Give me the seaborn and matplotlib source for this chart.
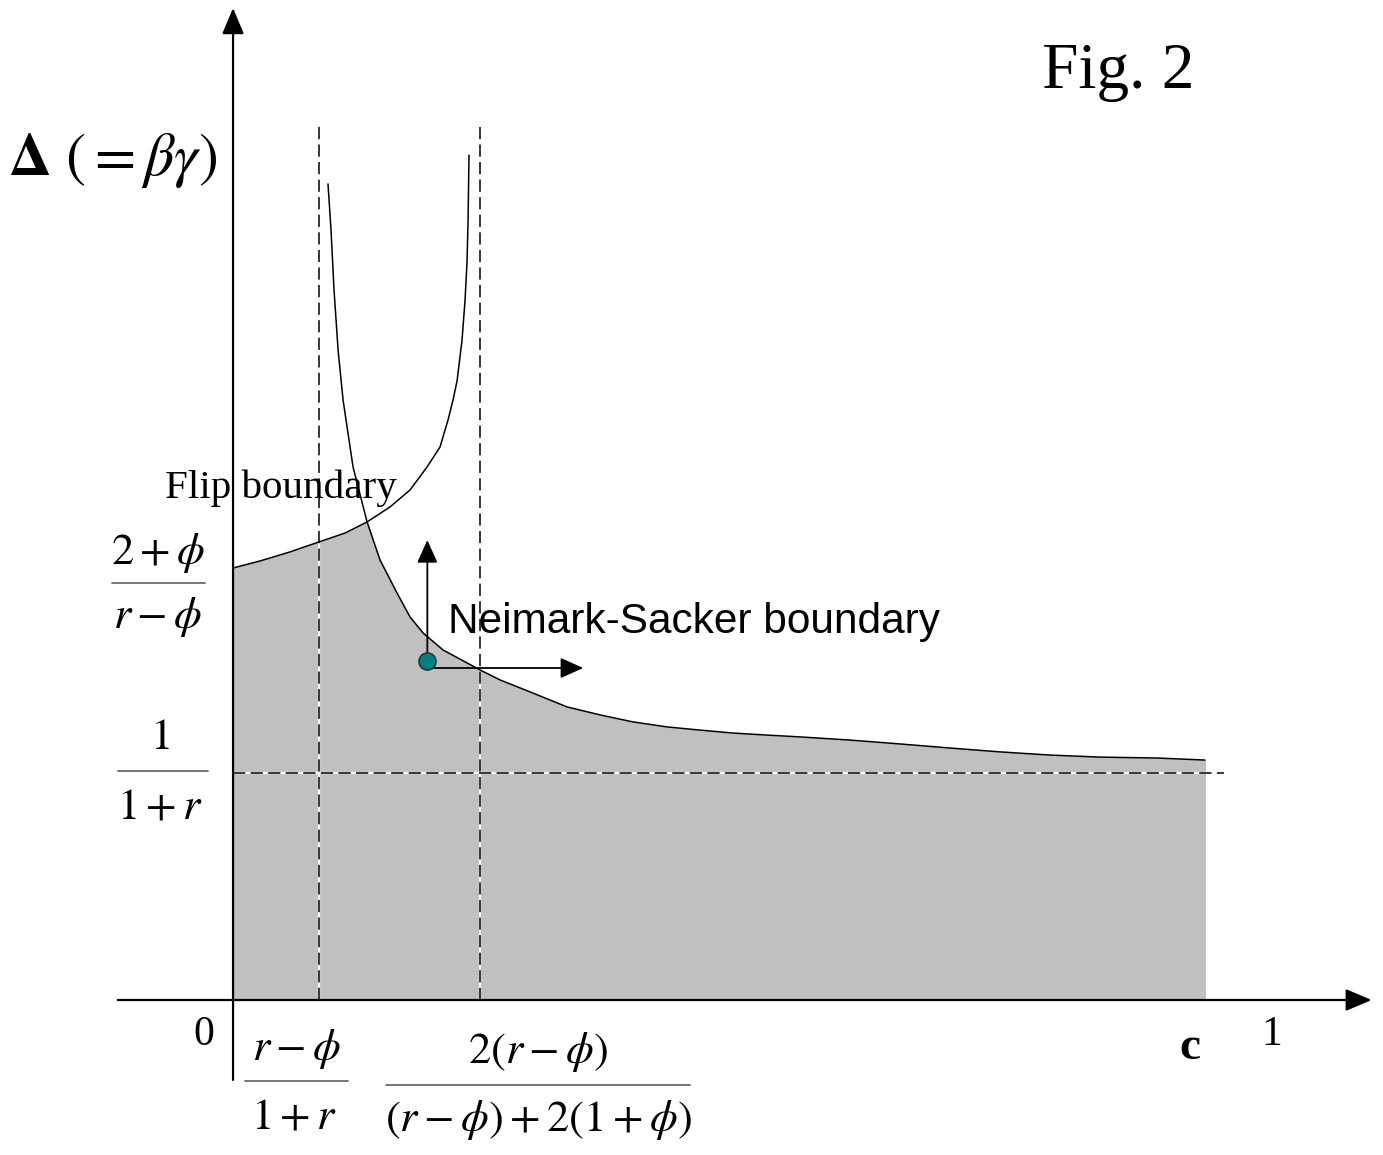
import numpy as np
import pandas as pd
import matplotlib
matplotlib.use("Agg")
import matplotlib.pyplot as plt
import seaborn as sns
from matplotlib.lines import Line2D

# ---------------- data (c on x-axis, Delta on y-axis; 1/(1+r) scaled to 1) -------------
flip_c = [0.0, 0.026, 0.0549, 0.0828, 0.1078, 0.129, 0.1511, 0.1704, 0.1867, 0.1992,
          0.2069, 0.2117, 0.2156, 0.2204, 0.2233, 0.2252, 0.2262, 0.2271]
flip_delta = [1.903, 1.934, 1.974, 2.018, 2.057, 2.106, 2.172, 2.247, 2.348, 2.436,
              2.555, 2.643, 2.727, 2.907, 3.084, 3.251, 3.436, 3.722]

ns_c = [0.0914, 0.0943, 0.0972, 0.1011, 0.1059, 0.1155, 0.129, 0.1415, 0.1578, 0.1704,
        0.1829, 0.2021, 0.2252, 0.2377, 0.257, 0.2887, 0.3215, 0.3532, 0.385, 0.4177,
        0.4495, 0.4812, 0.514, 0.5457, 0.5938, 0.642, 0.6901, 0.7382, 0.7863, 0.8345,
        0.8893, 0.9355]
ns_delta = [3.595, 3.392, 3.128, 2.863, 2.643, 2.348, 2.106, 1.938, 1.793, 1.687,
            1.617, 1.542, 1.485, 1.454, 1.410, 1.352, 1.291, 1.256, 1.225, 1.203,
            1.189, 1.176, 1.167, 1.159, 1.145, 1.128, 1.110, 1.093, 1.079, 1.070,
            1.066, 1.057]

c_left = 0.083      # (r - phi)/(1 + r)
c_right = 0.238     # 2(r - phi)/((r - phi) + 2(1 + phi))
delta_floor = 1.0   # 1/(1 + r)
c_max = 0.936
asym_top = 3.855
point_c, point_delta = 0.187, 1.493

# ---------------- figure -------------------------------------------------------------
W, H = 1383, 1155
sns.set_style("white")
plt.rcParams["mathtext.fontset"] = "stix"
plt.rcParams["font.family"] = ["Liberation Serif", "DejaVu Serif"]
plt.rcParams["text.color"] = "black"

fig = plt.figure(figsize=(W / 100, H / 100), dpi=100)
ax = fig.add_axes([0, 0, 1, 1])
ax.set_xlim(-0.2243, 1.1068)
ax.set_ylim(-0.6828, 4.4053)
ax.axis("off")

# shaded stable region
grid = np.unique(np.concatenate([flip_c, ns_c, [c_max]]))
grid = grid[grid <= c_max]
f_i = np.interp(grid, flip_c, flip_delta, right=np.inf)
n_i = np.interp(grid, ns_c, ns_delta, left=np.inf)
top = np.minimum(f_i, n_i)
ax.fill_between(grid, 0, top, color="#c0c0c0", lw=0, zorder=1)

# dashed guides (white under-line so gaps appear white on gray)
for xv in (c_left, c_right):
    ax.plot([xv, xv], [0, asym_top], color="white", lw=1.6, zorder=2)
    ax.plot([xv, xv], [0, asym_top], color="black", lw=1.1, dashes=(8, 3.5), zorder=3)
ax.plot([0, 0.954], [delta_floor, delta_floor], color="white", lw=1.6, zorder=2)
ax.plot([0, 0.954], [delta_floor, delta_floor], color="black", lw=1.1, dashes=(8, 3.5), zorder=3)

# boundaries
df_flip = pd.DataFrame({"c": flip_c, "delta": flip_delta})
df_ns = pd.DataFrame({"c": ns_c, "delta": ns_delta})
sns.lineplot(data=df_flip, x="c", y="delta", sort=False, estimator=None,
             color="black", lw=1.1, ax=ax, zorder=4)
sns.lineplot(data=df_ns, x="c", y="delta", sort=False, estimator=None,
             color="black", lw=1.1, ax=ax, zorder=4)

# axes with arrows
axis_arrow = dict(arrowstyle="-|>,head_length=1.0,head_width=0.42", lw=1.6,
                  color="black", shrinkA=0, shrinkB=0, mutation_scale=16)
ax.annotate("", xy=(1.096, 0), xytext=(-0.111, 0), arrowprops=axis_arrow, zorder=5)
ax.annotate("", xy=(0, 4.37), xytext=(0, -0.352), arrowprops=axis_arrow, zorder=5)

# perturbation arrows from the point
small_arrow = dict(arrowstyle="-|>,head_length=1.0,head_width=0.45", lw=1.3,
                   color="black", shrinkA=0, shrinkB=0, mutation_scale=14)
ax.annotate("", xy=(point_c, 2.026), xytext=(point_c, point_delta),
            arrowprops=small_arrow, zorder=5)
ax.annotate("", xy=(0.337, 1.4626), xytext=(point_c, 1.4626),
            arrowprops=small_arrow, zorder=5)
sns.scatterplot(x=[point_c], y=[point_delta], s=150, color="#008080",
                edgecolor="#1a3a3a", linewidth=1.2, ax=ax, zorder=6)


# ---------------- text ---------------------------------------------------------------
def fx(px):
    return px / W


def fy(py):
    return 1 - py / H


def txt(px, py, s, size, **kw):
    fig.text(fx(px), fy(py), s, fontsize=size, ha="center", va="center",
             color="black", **kw)


def bar(x1, x2, py):
    fig.add_artist(Line2D([fx(x1), fx(x2)], [fy(py), fy(py)],
                          transform=fig.transFigure, color="#6a6a6a", lw=1.3))


txt(1118, 72, "Fig. 2", 47)
txt(113, 160, r"$\mathbf{\Delta}\ (=\beta\gamma)$", 43)
txt(281, 488, "Flip boundary", 29.5)
txt(694, 622, "Neimark-Sacker boundary", 30.5, family=["Liberation Sans", "DejaVu Sans"])

fs = 32
txt(158, 553, r"$2+\phi$", fs)
bar(112, 205, 583)
txt(158, 617, r"$r-\phi$", fs)

txt(160, 738, r"$1$", fs)
bar(118, 208, 771)
txt(160, 808, r"$1+r$", fs)

txt(204, 1035, "0", 30)
txt(297, 1049, r"$r-\phi$", fs)
bar(245, 348, 1081)
txt(294, 1118, r"$1+r$", fs)

txt(538, 1052, r"$2(r-\phi)$", fs)
bar(386, 690, 1085)
txt(538, 1120, r"$(r-\phi)+2(1+\phi)$", fs)

txt(1190, 1048, "c", 34, fontweight="bold")
txt(1272, 1035, "1", 30)

fig.savefig("out.png", dpi=100, facecolor="white")
